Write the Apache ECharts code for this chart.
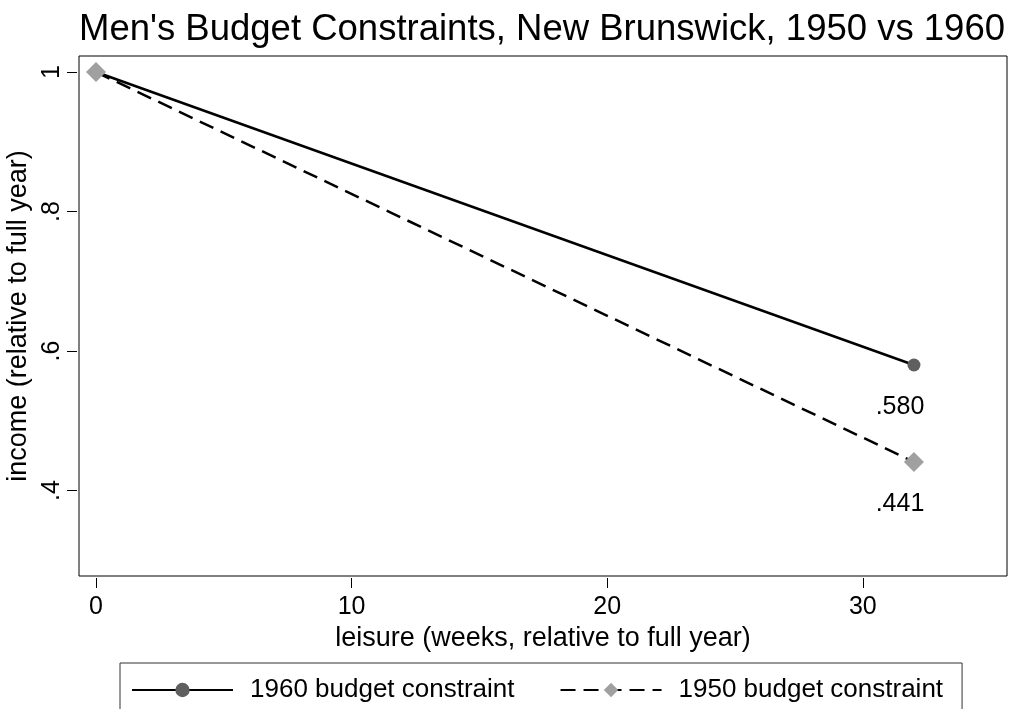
<!DOCTYPE html>
<html>
<head>
<meta charset="utf-8">
<script src="https://cdn.jsdelivr.net/npm/echarts@6/dist/echarts.min.js"></script>
<style>html,body{margin:0;padding:0;background:#fff;}#c{width:1014px;height:709px;}</style>
</head>
<body>
<div id="c"></div>
<script>
const leisureWeeks = [0, 32];
const income1960 = [1, 0.580];
const income1950 = [1, 0.441];
const xTickValues = [0, 10, 20, 30];
const yTickValues = [0.4, 0.6, 0.8, 1];
const seriesNames = ['1960 budget constraint', '1950 budget constraint'];
const titleText = "Men's Budget Constraints, New Brunswick, 1950 vs 1960";
const xTitle = 'leisure (weeks, relative to full year)';
const yTitle = 'income (relative to full year)';

const FONT = "'Liberation Sans', Arial, sans-serif";
function stataNum(v, d) {
  let s = d != null ? v.toFixed(d) : String(+v.toFixed(6));
  return s.replace(/^0\./, '.');
}
function buildData(xs, ys) {
  return xs.map((x, i) => {
    const item = { value: [x, ys[i]] };
    if (i === xs.length - 1) {
      item.label = { show: true };
    }
    return item;
  });
}

const chart = echarts.init(document.getElementById('c'), null, { renderer: 'canvas' });
chart.setOption({
  animation: false,
  backgroundColor: '#fff',
  title: {
    text: titleText,
    left: 79, top: 11, padding: 0,
    textStyle: { fontFamily: FONT, fontSize: 36.5, fontWeight: 'normal', color: '#000' }
  },
  grid: {
    left: 79, right: 7, top: 56, bottom: 133,
    outerBoundsMode: 'none', containLabel: false,
    show: true, borderColor: '#000', borderWidth: 1, backgroundColor: '#fff'
  },
  legend: {
    left: 120, top: 663,
    padding: [14, 19, 22, 11],
    itemWidth: 101, itemHeight: 18, itemGap: 45,
    borderColor: '#333', borderWidth: 1, backgroundColor: '#fff',
    selectedMode: false,
    textStyle: { fontFamily: FONT, fontSize: 26, color: '#000', padding: [0, 0, 0, 12] },
    data: seriesNames
  },
  xAxis: {
    type: 'value', min: -0.665, max: 35.64, offset: 2,
    name: xTitle, nameLocation: 'middle', nameGap: 40,
    nameTextStyle: { fontFamily: FONT, fontSize: 27, color: '#000' },
    axisLine: { show: false, onZero: false },
    axisTick: { show: true, inside: false, length: 10, lineStyle: { color: '#000', width: 1 }, customValues: xTickValues },
    axisLabel: { fontFamily: FONT, fontSize: 25, color: '#000', margin: 17, customValues: xTickValues,
      formatter: v => stataNum(v) },
    splitLine: { show: false }
  },
  yAxis: {
    type: 'value', min: 0.2775, max: 1.023, offset: 2,
    name: yTitle, nameLocation: 'middle', nameGap: 36,
    nameTextStyle: { fontFamily: FONT, fontSize: 27, color: '#000' },
    axisLine: { show: false, onZero: false },
    axisTick: { show: true, inside: false, length: 10, lineStyle: { color: '#000', width: 1 }, customValues: yTickValues },
    axisLabel: { fontFamily: FONT, fontSize: 25, color: '#000', margin: 12, rotate: 90, customValues: yTickValues,
      formatter: v => stataNum(v) },
    splitLine: { show: false }
  },
  series: [
    {
      name: seriesNames[0], type: 'line',
      data: buildData(leisureWeeks, income1960),
      symbol: 'circle', symbolSize: 13, showAllSymbol: true,
      lineStyle: { color: '#000', width: 2.5, type: 'solid' },
      itemStyle: { color: '#5f5f5f', borderWidth: 0 },
      label: { show: false, position: 'inside', offset: [-14, 42], fontFamily: FONT, fontSize: 25, color: '#000',
        formatter: p => stataNum(p.value[1], 3) },
      z: 2
    },
    {
      name: seriesNames[1], type: 'line',
      data: buildData(leisureWeeks, income1950),
      symbol: 'diamond', symbolSize: 20, showAllSymbol: true,
      lineStyle: { color: '#000', width: 2.5, type: [15, 8] },
      itemStyle: { color: '#a0a0a0', borderWidth: 0 },
      label: { show: false, position: 'inside', offset: [-14, 42], fontFamily: FONT, fontSize: 25, color: '#000',
        formatter: p => stataNum(p.value[1], 3) },
      z: 3
    }
  ]
});
</script>
</body>
</html>
